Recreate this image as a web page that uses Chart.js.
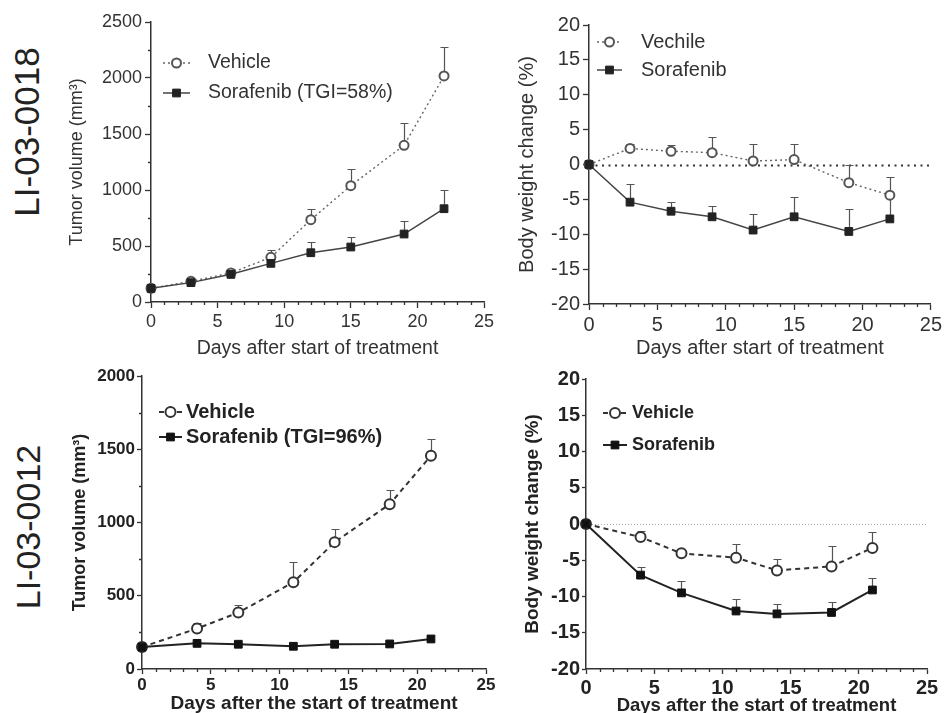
<!DOCTYPE html>
<html>
<head>
<meta charset="utf-8">
<script src="https://cdn.jsdelivr.net/npm/chart.js@4.4.0/dist/chart.umd.min.js"></script>
<style>
  body { margin: 0; background: #fff; }
  #wrap { position: relative; width: 945px; height: 713px; overflow: hidden; }
  canvas { position: absolute; }
  .tag {
    position: absolute;
    font-family: 'Liberation Sans', Arial, sans-serif;
    color: #222;
    white-space: nowrap;
    transform: translate(-50%, -50%) rotate(-90deg);
  }
</style>
</head>
<body>
<div id="wrap">
  <div class="tag" style="left:27px; top:132px; font-size:35px;">LI-03-0018</div>
  <div class="tag" style="left:28px; top:527px; font-size:34px;">LI-03-0012</div>
  <canvas id="c1" width="440" height="360" style="left:60px; top:0px;"></canvas>
  <canvas id="c2" width="440" height="360" style="left:505px; top:0px;"></canvas>
  <canvas id="c3" width="440" height="353" style="left:60px; top:360px;"></canvas>
  <canvas id="c4" width="440" height="353" style="left:505px; top:360px;"></canvas>
</div>
<script>
// ---- data ----
// LI-03-0018
const days18 = [0, 3, 6, 9, 12, 15, 19, 22];
const vehicleVol18 = [122, 185, 259, 399, 735, 1039, 1399, 2018];
const vehicleVol18Top = [null, 195, 290, 461, 830, 1188, 1598, 2274];
const sorafVol18 = [122, 173, 247, 345, 440, 491, 607, 833];
const sorafVol18Top = [null, 190, 295, 380, 533, 583, 720, 997];

const vehicleBw18 = [0, 2.3, 1.9, 1.7, 0.5, 0.7, -2.6, -4.4];
const vehicleBw18Top = [null, 3.0, 2.8, 3.9, 2.9, 2.9, 0, -1.8];
const sorafBw18 = [0, -5.4, -6.7, -7.5, -9.4, -7.5, -9.6, -7.8];
const sorafBw18Top = [null, -2.8, -5.4, -5.9, -7.1, -4.7, -6.4, -4.6];

// LI-03-0012
const days12 = [0, 4, 7, 11, 14, 18, 21];
const vehicleVol12 = [150, 276, 385, 592, 866, 1125, 1456];
const vehicleVol12Top = [null, 317, 440, 733, 957, 1223, 1572];
const sorafVol12 = [150, 175, 169, 155, 169, 171, 205];

const vehicleBw12 = [0, -1.8, -4.05, -4.65, -6.4, -5.85, -3.3];
const vehicleBw12Top = [null, -0.9, -3.6, -2.7, -4.8, -3.1, -1.1];
const sorafBw12 = [0, -7.05, -9.5, -12.0, -12.4, -12.2, -9.1];
const sorafBw12Top = [null, -5.9, -7.8, -10.3, -11.1, -10.7, -7.4];

const xTicks = [0, 5, 10, 15, 20, 25];
const volTicks18 = [0, 500, 1000, 1500, 2000, 2500];
const volTicks12 = [0, 500, 1000, 1500, 2000];
const bwTicks = [-20, -15, -10, -5, 0, 5, 10, 15, 20];

const FAMILY = "'Liberation Sans', Arial, sans-serif";

function pts(xs, ys) { return xs.map((x, i) => ({ x: x, y: ys[i] })); }

// error bars (upper only, with cap)
const errorBars = {
  id: 'errorBars',
  beforeDatasetsDraw(chart) {
    const ctx = chart.ctx, xs = chart.scales.x, ys = chart.scales.y;
    chart.data.datasets.forEach(ds => {
      if (!ds.errTop) return;
      ctx.save();
      ctx.strokeStyle = ds.errColor || '#555';
      ctx.lineWidth = 1.2;
      ds.data.forEach((p, i) => {
        const t = ds.errTop[i];
        if (t == null) return;
        const px = Math.round(xs.getPixelForValue(p.x)) + 0.5;
        const py = ys.getPixelForValue(p.y);
        const pt = Math.round(ys.getPixelForValue(t)) + 0.5;
        ctx.beginPath();
        ctx.moveTo(px, py); ctx.lineTo(px, pt);
        ctx.moveTo(px - 4, pt); ctx.lineTo(px + 4, pt);
        ctx.stroke();
      });
      ctx.restore();
    });
  }
};

// dotted reference line at y = 0
const zeroLine = {
  id: 'zeroLine',
  beforeDatasetsDraw(chart, args, o) {
    if (!o || !o.color) return;
    const ctx = chart.ctx, a = chart.chartArea;
    const y = Math.round(chart.scales.y.getPixelForValue(0)) + 0.5;
    ctx.save();
    ctx.strokeStyle = o.color;
    ctx.lineWidth = o.width;
    ctx.setLineDash(o.dash);
    ctx.beginPath();
    ctx.moveTo(a.left, y); ctx.lineTo(a.right, y);
    ctx.stroke();
    ctx.restore();
  }
};

// minor tick marks
const minorTicks = {
  id: 'minorTicks',
  afterDraw(chart, args, o) {
    const ctx = chart.ctx, a = chart.chartArea;
    const xs = chart.scales.x, ys = chart.scales.y;
    ctx.save();
    ctx.strokeStyle = '#333';
    ctx.lineWidth = 1.3;
    ctx.beginPath();
    for (let v = xs.min; v <= xs.max; v += 1) {
      if (v % 5 === 0) continue;
      const px = Math.round(xs.getPixelForValue(v)) + 0.5;
      ctx.moveTo(px, a.bottom); ctx.lineTo(px, a.bottom + o.len);
    }
    if (o.yStep) {
      for (let v = ys.min; v <= ys.max; v += o.yStep) {
        if (v % o.yMajor === 0) continue;
        const py = Math.round(ys.getPixelForValue(v)) + 0.5;
        ctx.moveTo(a.left, py); ctx.lineTo(a.left - o.len, py);
      }
    }
    ctx.stroke();
    ctx.restore();
  }
};

// legend inside the plot: line segment + marker, then label
const inLegend = {
  id: 'inLegend',
  afterDraw(chart, args, o) {
    const ctx = chart.ctx, a = chart.chartArea;
    chart.data.datasets.forEach((ds, i) => {
      const y = a.top + o.oy + i * o.gap;
      const x0 = a.left + o.ox, x1 = x0 + o.iconW, xm = (x0 + x1) / 2;
      ctx.save();
      ctx.strokeStyle = ds.borderColor;
      ctx.lineWidth = ds.borderWidth;
      ctx.setLineDash(ds.borderDash || []);
      ctx.beginPath(); ctx.moveTo(x0, y); ctx.lineTo(x1, y); ctx.stroke();
      ctx.setLineDash([]);
      ctx.fillStyle = ds.pointBackgroundColor;
      ctx.strokeStyle = ds.pointBorderColor;
      ctx.lineWidth = ds.pointBorderWidth;
      ctx.beginPath();
      if (ds.pointStyle === 'rect') {
        const s = ds.pointRadius * Math.SQRT1_2;
        ctx.rect(xm - s, y - s, 2 * s, 2 * s);
      } else {
        ctx.arc(xm, y, ds.pointRadius, 0, Math.PI * 2);
      }
      ctx.fill(); ctx.stroke();
      ctx.fillStyle = o.color;
      ctx.font = o.font;
      ctx.textBaseline = 'middle';
      ctx.fillText(ds.label, a.left + o.textX, y);
      ctx.restore();
    });
  }
};

function vehicleStyle(bold) {
  return bold
    ? { borderColor: '#333', borderWidth: 2, borderDash: [5, 4], pointStyle: 'circle', pointRadius: 5,
        pointBorderWidth: 2, pointBorderColor: '#333', pointBackgroundColor: '#fff', order: 1, errColor: '#555' }
    : { borderColor: '#666', borderWidth: 1.4, borderDash: [2, 3], pointStyle: 'circle', pointRadius: 4.5,
        pointBorderWidth: 2, pointBorderColor: '#555', pointBackgroundColor: '#fff', order: 1, errColor: '#555' };
}
function sorafStyle(bold) {
  return bold
    ? { borderColor: '#222', borderWidth: 2, pointStyle: 'rect', pointRadius: 5.5,
        pointBorderWidth: 1, pointBorderColor: '#111', pointBackgroundColor: '#111', order: 0, errColor: '#555' }
    : { borderColor: '#444', borderWidth: 1.5, pointStyle: 'rect', pointRadius: 5.5,
        pointBorderWidth: 1, pointBorderColor: '#222', pointBackgroundColor: '#222', order: 0, errColor: '#555' };
}

function panel(id, p) {
  const canvas = document.getElementById(id);
  const W = canvas.width, H = canvas.height;
  const weight = p.bold ? 'bold' : 'normal';
  const col = p.bold ? '#222' : '#333';
  const plain = v => String(v);
  return new Chart(canvas, {
    type: 'line',
    data: { datasets: p.datasets },
    options: {
      responsive: false,
      animation: false,
      events: [],
      layout: { padding: { left: 0, top: p.area.top, right: W - p.area.right, bottom: 0 } },
      elements: { line: { tension: 0, fill: false } },
      scales: {
        x: {
          type: 'linear', min: 0, max: 25,
          afterBuildTicks: s => { s.ticks = xTicks.map(v => ({ value: v })); },
          afterFit: s => { s.height = H - p.area.bottom; },
          grid: { drawOnChartArea: false, drawTicks: true, tickLength: p.xTick[0], tickWidth: 1.3, tickColor: '#333' },
          border: { color: '#333', width: 1.5 },
          ticks: { padding: p.xTick[1], color: col, callback: plain,
                   font: { family: FAMILY, size: p.tickSize, weight: weight } },
          title: { display: true, text: p.xTitle, color: col,
                   font: { family: FAMILY, size: p.xTitleSize, weight: weight, lineHeight: p.xTitleLH },
                   padding: { top: 0, bottom: p.xTitlePad } }
        },
        y: {
          type: 'linear', min: p.yMin, max: p.yMax,
          afterBuildTicks: s => { s.ticks = p.yTicks.map(v => ({ value: v })); },
          afterFit: s => { s.width = p.area.left; },
          grid: { drawOnChartArea: false, drawTicks: true, tickLength: p.yTick[0], tickWidth: 1.3, tickColor: '#333' },
          border: { color: '#333', width: 1.5 },
          ticks: { padding: p.yTick[1], color: col, callback: plain,
                   font: { family: FAMILY, size: p.tickSize, weight: weight } },
          title: { display: true, text: p.yTitle, color: col,
                   font: { family: FAMILY, size: p.yTitleSize, weight: weight, lineHeight: 1.2 },
                   padding: { top: p.yTitlePad, bottom: 0 } }
        }
      },
      plugins: {
        legend: { display: false },
        tooltip: { enabled: false },
        zeroLine: p.zero || {},
        minorTicks: { len: 3, yStep: p.yMinor, yMajor: p.yMajor },
        inLegend: Object.assign({ color: col, font: weight + ' ' + p.legendSize + 'px ' + FAMILY }, p.legend)
      }
    },
    plugins: [zeroLine, errorBars, minorTicks, inLegend]
  });
}

function ds(label, xs, ys, top, style) {
  return Object.assign({ label: label, data: pts(xs, ys), errTop: top, clip: false }, style);
}

// top-left: tumour volume LI-03-0018
panel('c1', {
  bold: false,
  area: { left: 91, right: 424, top: 22, bottom: 302 },
  yMin: 0, yMax: 2500, yTicks: volTicks18, yMinor: 250, yMajor: 500,
  tickSize: 18, xTick: [6, 3], yTick: [6, 3],
  xTitle: 'Days after start of treatment', xTitleSize: 19.5, xTitleLH: 1.2, xTitlePad: 0,
  yTitle: 'Tumor volume (mm\u00b3)', yTitleSize: 18, yTitlePad: 6,
  legendSize: 19.5,
  legend: { ox: 12, oy: 41, gap: 30, iconW: 27, textX: 57 },
  datasets: [
    ds('Vehicle', days18, vehicleVol18, vehicleVol18Top, vehicleStyle(false)),
    ds('Sorafenib (TGI=58%)', days18, sorafVol18, sorafVol18Top, sorafStyle(false))
  ]
});

// top-right: body weight LI-03-0018
panel('c2', {
  bold: false,
  area: { left: 84, right: 428, top: 25, bottom: 304 },
  yMin: -20, yMax: 20, yTicks: bwTicks, yMinor: null, yMajor: 5,
  tickSize: 20, xTick: [6, 3], yTick: [6, 3],
  xTitle: 'Days after start of treatment', xTitleSize: 20, xTitleLH: 1.2, xTitlePad: 0,
  yTitle: 'Body weight change (%)', yTitleSize: 20, yTitlePad: 10,
  legendSize: 20,
  legend: { ox: 8, oy: 17, gap: 28, iconW: 25, textX: 52 },
  zero: { color: '#333', width: 2, dash: [2, 4.5] },
  datasets: [
    ds('Vechile', days18, vehicleBw18, vehicleBw18Top, vehicleStyle(false)),
    ds('Sorafenib', days18, sorafBw18, sorafBw18Top, sorafStyle(false))
  ]
});

// bottom-left: tumour volume LI-03-0012
panel('c3', {
  bold: true,
  area: { left: 82, right: 426, top: 16, bottom: 309 },
  yMin: 0, yMax: 2000, yTicks: volTicks12, yMinor: 250, yMajor: 500,
  tickSize: 17, xTick: [5, 1], yTick: [5, 2],
  xTitle: 'Days after the start of treatment', xTitleSize: 19, xTitleLH: 1, xTitlePad: 0,
  yTitle: 'Tumor volume (mm\u00b3)', yTitleSize: 18, yTitlePad: 9,
  legendSize: 20,
  legend: { ox: 17, oy: 36, gap: 25, iconW: 23, textX: 44 },
  datasets: [
    ds('Vehicle', days12, vehicleVol12, vehicleVol12Top, vehicleStyle(true)),
    ds('Sorafenib (TGI=96%)', days12, sorafVol12, null, sorafStyle(true))
  ]
});

// bottom-right: body weight LI-03-0012
panel('c4', {
  bold: true,
  area: { left: 81, right: 422, top: 19, bottom: 309 },
  yMin: -20, yMax: 20, yTicks: bwTicks, yMinor: null, yMajor: 5,
  tickSize: 20, xTick: [5, 2], yTick: [4, 2],
  xTitle: 'Days after the start of treatment', xTitleSize: 18.5, xTitleLH: 0.9, xTitlePad: -1,
  yTitle: 'Body weight change (%)', yTitleSize: 19, yTitlePad: 16,
  legendSize: 18,
  legend: { ox: 17, oy: 34, gap: 32, iconW: 24, textX: 46 },
  zero: { color: '#aaa', width: 1, dash: [1, 2] },
  datasets: [
    ds('Vehicle', days12, vehicleBw12, vehicleBw12Top, vehicleStyle(true)),
    ds('Sorafenib', days12, sorafBw12, sorafBw12Top, sorafStyle(true))
  ]
});
</script>
</body>
</html>
